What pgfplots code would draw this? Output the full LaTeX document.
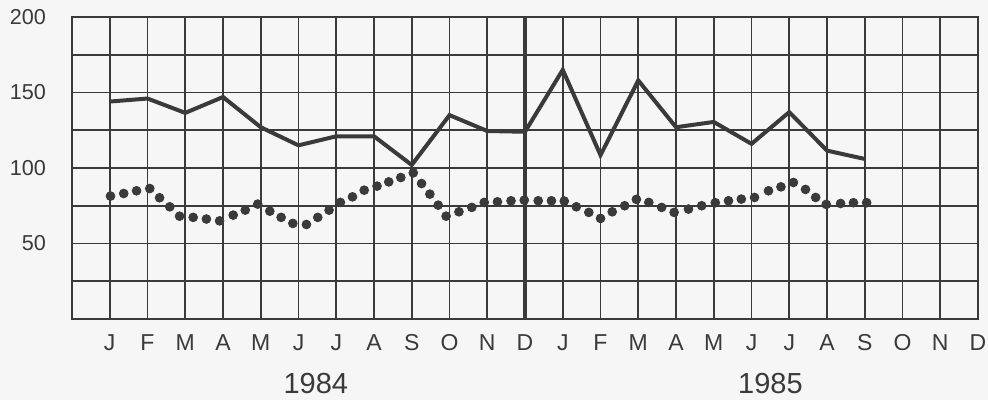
\documentclass[border=0pt]{standalone}
\usepackage{pgfplots}
\pgfplotsset{compat=1.18}
\usepackage{fontspec}
\setmainfont{Liberation Sans}
\definecolor{ink}{RGB}{58,58,58}
\definecolor{paper}{RGB}{246,246,246}

\begin{document}
\begin{tikzpicture}
  % page area, 1 px of the reference = 0.5 pt
  \path[use as bounding box, fill=paper] (-36pt,-40.5pt) rectangle (458pt,159.5pt);
  \begin{axis}[
      scale only axis,
      width=453pt, height=151pt,
      xmin=0, xmax=24, ymin=0, ymax=200,
      axis line style={ink, line width=0.8pt},
      xtick={0,...,24},
      xticklabels={{},J,F,M,A,M,J,J,A,S,O,N,D,J,F,M,A,M,J,J,A,S,O,N,D},
      ytick={0,25,...,200},
      yticklabels={{},{},50,{},100,{},150,{},200},
      major tick length=0pt,
      grid=major,
      grid style={ink, line width=0.8pt},
      extra x ticks={12},
      extra x tick labels={},
      extra x tick style={grid style={ink, line width=1.6pt}},
      xticklabel style={font=\fontsize{11.5}{13}\selectfont, text=ink, anchor=base, yshift=-15.8pt},
      yticklabel style={font=\fontsize{10.8}{12}\selectfont, text=ink, anchor=east, xshift=-9.5pt},
      /pgf/number format/assume math mode=true,
      clip=false,
    ]
    % monthly series (solid line)
    \addplot[ink, line width=2pt, line join=miter, mark=none] coordinates {
      (1,144) (2,146) (3,136.5) (4,147) (5,127) (6,115) (7,121) (8,121)
      (9,102) (10,135) (11,124.5) (12,124) (13,165) (14,108.5) (15,158)
      (16,127) (17,130.5) (18,116) (19,137) (20,111.5) (21,106)
    };
    % dotted series
    \addplot[only marks, mark=*, mark size=2.2pt, mark options={fill=ink, draw=ink}] coordinates {
      (1.02,81.4) (1.37,83.1) (1.71,84.9) (2.06,86.4) (2.32,80.3) (2.59,74.3)
      (2.85,68.1) (3.21,67.3) (3.56,66.2) (3.91,65.0) (4.27,68.8) (4.59,72.1)
      (4.92,76.1) (5.24,71.4) (5.54,67.3) (5.85,63.3) (6.21,62.6) (6.51,67.3)
      (6.81,72.1) (7.11,77.2) (7.43,80.9) (7.74,85.3) (8.08,88.0) (8.39,90.8)
      (8.71,93.7) (9.04,96.8) (9.26,89.7) (9.48,82.7) (9.70,75.4) (9.91,68.1)
      (10.25,71.0) (10.59,73.9) (10.92,77.2) (11.27,77.6) (11.63,78.3) (11.98,78.7)
      (12.35,78.3) (12.70,78.3) (13.04,78.1) (13.36,74.3) (13.69,70.6) (14.00,66.6)
      (14.31,71.0) (14.64,75.0) (14.95,79.2) (15.28,77.2) (15.62,73.9) (15.95,70.6)
      (16.33,72.8) (16.68,75.0) (17.04,77.0) (17.39,78.3) (17.73,79.4) (18.08,80.5)
      (18.45,84.9) (18.78,87.5) (19.11,90.4) (19.43,85.8) (19.70,80.5) (19.98,75.9)
      (20.36,76.5) (20.70,77.0) (21.05,77.0)
    };
    % year captions
    \node[anchor=base, text=ink, font=\fontsize{14.5}{16}\selectfont, yshift=-37.5pt] at (axis cs:6.46,0) {1984};
    \node[anchor=base, text=ink, font=\fontsize{14.5}{16}\selectfont, yshift=-37.5pt] at (axis cs:18.5,0) {1985};
  \end{axis}
\end{tikzpicture}
\end{document}
